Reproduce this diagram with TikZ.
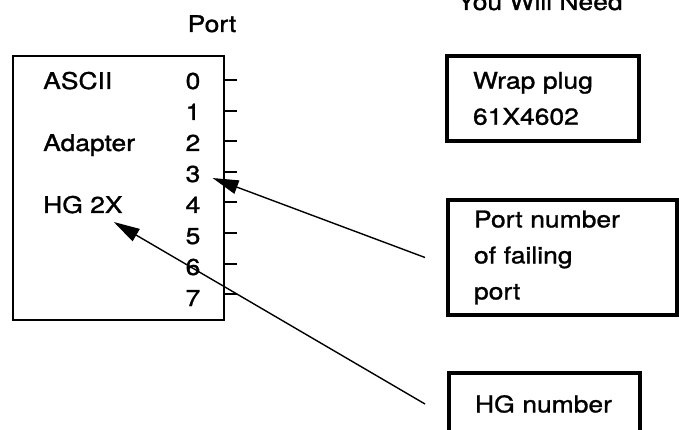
\documentclass[tikz,border=0pt]{standalone}
\usepackage{fontspec}
\setmainfont{TeX Gyre Heros}[FakeStretch=1.15, FakeBold=1.2]
\usetikzlibrary{arrows.meta,positioning}

\begin{document}
\begin{tikzpicture}[x=1pt, y=-1pt,
    txt/.style={font=\fontsize{23}{28}\selectfont, inner sep=0pt, anchor=base west},
    needbox/.style={draw, line width=3.5pt, anchor=north west, outer sep=0pt, align=left,
        font=\fontsize{23}{36}\selectfont, inner xsep=26pt, inner ysep=0pt},
    pointer/.style={line width=1.4pt, -{Triangle[length=26pt,width=14pt]}}]
    \def\rowGap{31}
    \def\tickGap{30.6}

    \useasboundingbox (0,0) rectangle (679,430);

    \node[draw, line width=2.2pt, anchor=north west, outer sep=0pt, inner sep=0pt,
        minimum width=211, minimum height=264] (adapter) at (13,56) {};
    \node[txt, anchor=base] (porthead) at (212,32) {Port};

    \node[txt] (ascii) at (43,89) {ASCII};
    \node[txt] (adptr) at (43,151) {Adapter};
    \node[txt] (hglbl) at (43,213) {HG 2X};

    \foreach \n in {0,...,7}
        \node[txt, anchor=base] (d\n) at (193,{89+\n*\rowGap}) {\n};
    \foreach \n in {0,...,7}
        \draw[line width=2pt] (224,{80+\n*\tickGap}) -- ++(13,0);

    \node[txt, anchor=base] (willneed) at (540,10) {You Will Need};
    \node[needbox, minimum width=192, minimum height=85, text width=140] (plug) at (447,56)
        {Wrap~plug\\61X4602};
    \node[needbox, minimum width=229, minimum height=115, text width=177] (pnum) at (448,200)
        {Port~number\\of~failing\\port};
    \node[needbox, minimum width=191, minimum height=62, text width=139] (hgnum) at (449,373)
        {HG~number};

    \coordinate (pnumtail) at ([xshift=-23pt]pnum.west);
    \coordinate (porttip) at ([xshift=12pt,yshift=-4pt]d3.east);
    \draw[pointer] (pnumtail) -- (porttip);

    \coordinate (hgtail) at ([xshift=-24pt]hgnum.west);
    \coordinate (hgtip) at ([xshift=-9pt,yshift=-9pt]hglbl.base east);
    \draw[pointer] (hgtail) -- (hgtip);
\end{tikzpicture}
\end{document}
